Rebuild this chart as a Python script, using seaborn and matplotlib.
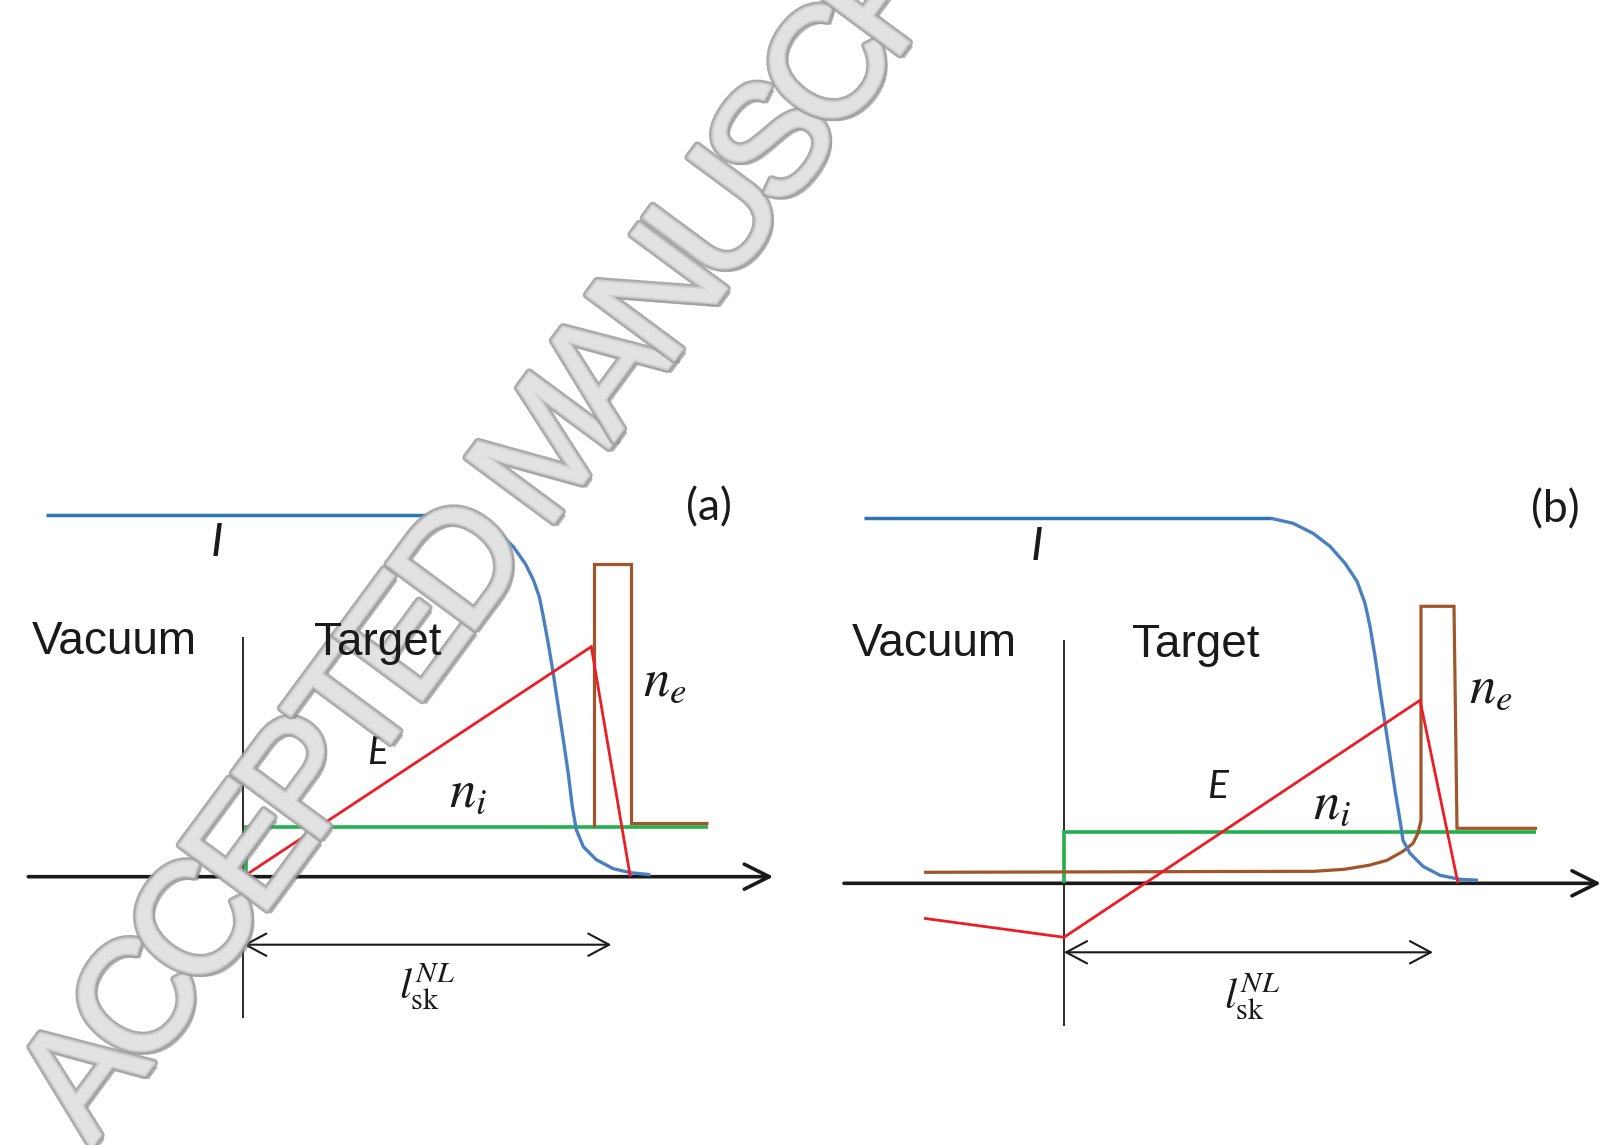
import numpy as np
import pandas as pd
import matplotlib
matplotlib.use("Agg")
import matplotlib.pyplot as plt
import matplotlib.patheffects as pe
import seaborn as sns

# ---------------- data (panel-relative units, origin = axis crossing) ----------------
# Panel (a)
blue_a_x = [-197, 202, 220, 240, 257, 270, 282, 290, 296, 300, 305, 310, 315, 320, 325, 329, 333, 340, 353, 370, 387, 407]
blue_a_y = [362, 362, 360, 353, 343, 330, 313, 297, 280, 260, 233, 203, 170, 137, 103, 70, 47, 30, 17, 8, 4, 2]
green_a_x = [3, 3, 465]
green_a_y = [0, 50, 50]
brown_a_x = [351, 351, 388, 388, 465]
brown_a_y = [50, 313, 313, 54, 54]
red_a_x = [0, 348, 387]
red_a_y = [0, 230, 0]
axis_a_x = [-215, 530]
vline_a_y = [-141, 240]
span_a_x = [0, 368]
span_a_y = -68

# Panel (b)
blue_b_x = [-200, 207, 229, 249, 266, 281, 293, 301, 306, 311, 316, 321, 326, 331, 336, 339, 346, 359, 376, 396, 414]
blue_b_y = [365, 365, 360, 350, 337, 320, 302, 280, 257, 227, 193, 160, 127, 93, 63, 43, 30, 17, 8, 4, 3]
green_b_x = [0, 0, 472]
green_b_y = [0, 51, 51]
brown_b_x = [-140, 250, 280, 305, 323, 339, 349, 354, 357, 357, 390, 393, 473]
brown_b_y = [11, 12, 14, 18, 23, 32, 40, 50, 63, 277, 277, 55, 55]
red_b_x = [-140, 0, 356, 394]
red_b_y = [-35, -54, 183, 0]
axis_b_x = [-220, 537]
vline_b_y = [-143, 243]
span_b_x = [0, 369]
span_b_y = -69

panel_tags = ["(a)", "(b)"]
region_labels = ["Vacuum", "Target"]
watermark = "ACCEPTED MANUSCRIPT"

# ---------------- style ----------------
sns.set_theme(style="white")
plt.rcParams["font.family"] = ["Liberation Sans", "DejaVu Sans"]
plt.rcParams["mathtext.fontset"] = "stix"

BLUE_DARK = "#2e75b6"
BLUE = "#4a7fc1"
RED = "#ee1c24"
GREEN = "#22b14c"
BROWN = "#a0552b"
INK = "#1a1a1a"

W, H = 1605, 1145
fig = plt.figure(figsize=(W / 100, H / 100), dpi=100, facecolor="white")

ax_a = fig.add_axes([0.0, 0.0, 0.5, 705 / H])
ax_b = fig.add_axes([0.5, 0.0, 0.5, 705 / H])


def line(ax, xs, ys, color, lw, z):
    df = pd.DataFrame({"x": xs, "y": ys})
    sns.lineplot(data=df, x="x", y="y", sort=False, estimator=None, ax=ax,
                 color=color, linewidth=lw, zorder=z, legend=False,
                 solid_joinstyle="miter", solid_capstyle="butt")


def draw_panel(ax, blue_x, blue_y, green_x, green_y, brown_x, brown_y,
               red_x, red_y, axis_x, vline_y, span_x, span_y):
    line(ax, green_x, green_y, GREEN, 2.6, 3)
    line(ax, brown_x, brown_y, BROWN, 2.3, 4)
    line(ax, blue_x[:2], blue_y[:2], BLUE_DARK, 2.5, 5)
    line(ax, blue_x[1:], blue_y[1:], BLUE, 2.4, 5)
    line(ax, red_x, red_y, RED, 2.0, 6)
    ax.plot([0, 0], vline_y, color=INK, lw=1.3, zorder=2, solid_capstyle="butt")
    ax.annotate("", xy=(axis_x[1], 0), xytext=(axis_x[0], 0),
                arrowprops=dict(arrowstyle="->,head_length=0.9,head_width=0.45",
                                mutation_scale=20, lw=2.6, color=INK,
                                shrinkA=0, shrinkB=0), zorder=2)
    ax.annotate("", xy=(span_x[1], span_y), xytext=(span_x[0], span_y),
                arrowprops=dict(arrowstyle="<->,head_length=0.75,head_width=0.4",
                                mutation_scale=20, lw=1.5, color=INK,
                                shrinkA=0, shrinkB=0), zorder=2)
    ax.set_axis_off()


draw_panel(ax_a, blue_a_x, blue_a_y, green_a_x, green_a_y, brown_a_x, brown_a_y,
           red_a_x, red_a_y, axis_a_x, vline_a_y, span_a_x, span_a_y)
draw_panel(ax_b, blue_b_x, blue_b_y, green_b_x, green_b_y, brown_b_x, brown_b_y,
           red_b_x, red_b_y, axis_b_x, vline_b_y, span_b_x, span_b_y)

ax_a.set_xlim(-243.3, 559.2)
ax_a.set_ylim(-268.3, 436.7)
ax_b.set_xlim(-261.5, 541.0)
ax_b.set_ylim(-261.7, 443.3)

# ---------------- labels ----------------
ital = dict(family=["Lato", "DejaVu Sans"], style="italic", color=INK,
            ha="center", va="center")
sans = dict(family=["Liberation Sans", "DejaVu Sans"], color=INK,
            ha="center", va="center", fontsize=33)
tag = dict(family=["Lato", "DejaVu Sans"], color=INK, ha="center", va="center",
           fontsize=32)
math = dict(color=INK, ha="center", va="center")

label_pos = {
    "a": dict(I=(-26, 334), vac=(-129, 235), tgt=(134, 234), E=(134, 124),
              ni=(225, 84), ne=(421, 195), lsk=(184, -110), tag=(466, 369)),
    "b": dict(I=(-27, 336), vac=(-130, 239), tgt=(132, 238), E=(154, 96),
              ni=(268, 78), ne=(427, 195), lsk=(188, -113), tag=(491, 373)),
}
for ax, key, t in zip([ax_a, ax_b], ["a", "b"], panel_tags):
    p = label_pos[key]
    tr = ax.transData
    # E sits under the watermark, the other labels above it
    ax.text(*p["E"], "E", fontsize=28, **ital)
    fig.text(*p["I"], "I", fontsize=34, transform=tr, zorder=20, **ital)
    fig.text(*p["vac"], region_labels[0], transform=tr, zorder=20, **sans)
    fig.text(*p["tgt"], region_labels[1], transform=tr, zorder=20, **sans)
    fig.text(*p["ni"], r"$n_i$", fontsize=38, transform=tr, zorder=20, **math)
    fig.text(*p["ne"], r"$n_e$", fontsize=38, transform=tr, zorder=20, **math)
    fig.text(*p["lsk"], r"$l_{\mathrm{sk}}^{NL}$", fontsize=31, transform=tr,
             zorder=20, **math)
    fig.text(*p["tag"], t, transform=tr, zorder=20, **tag)

# ---------------- watermark ----------------
adv = {"A": 667, "C": 722, "E": 667, "P": 667, "T": 611, "D": 722, " ": 278,
       "M": 833, "N": 722, "U": 722, "S": 667, "R": 722, "I": 278}
wm_family, draw_em = "Liberation Sans", 158
em_px = 134
ang = 53.5
sx, sy = 96, 1141
ca, sa = np.cos(np.radians(ang)), np.sin(np.radians(ang))
effects = [pe.SimplePatchShadow(offset=(3, -3), shadow_rgbFace="#6a6a6a", alpha=0.5),
           pe.Stroke(linewidth=6.0, foreground="#a0a0a0"),
           pe.Stroke(linewidth=2.5, foreground="#d2d2d2"),
           pe.Normal()]
pos = 0.0
for ch in watermark:
    w = adv[ch] / 1000 * em_px
    c = pos + w / 2
    px, py = sx + c * ca, sy - c * sa
    if ch != " ":
        fig.text(px / W, 1 - py / H, ch, rotation=ang, rotation_mode="anchor",
                 ha="center", va="baseline", fontsize=draw_em * 0.72,
                 family=wm_family, color="#e3e3e3", alpha=0.88,
                 path_effects=effects, zorder=10)
    pos += w

fig.savefig("out.png", dpi=100, facecolor="white")
